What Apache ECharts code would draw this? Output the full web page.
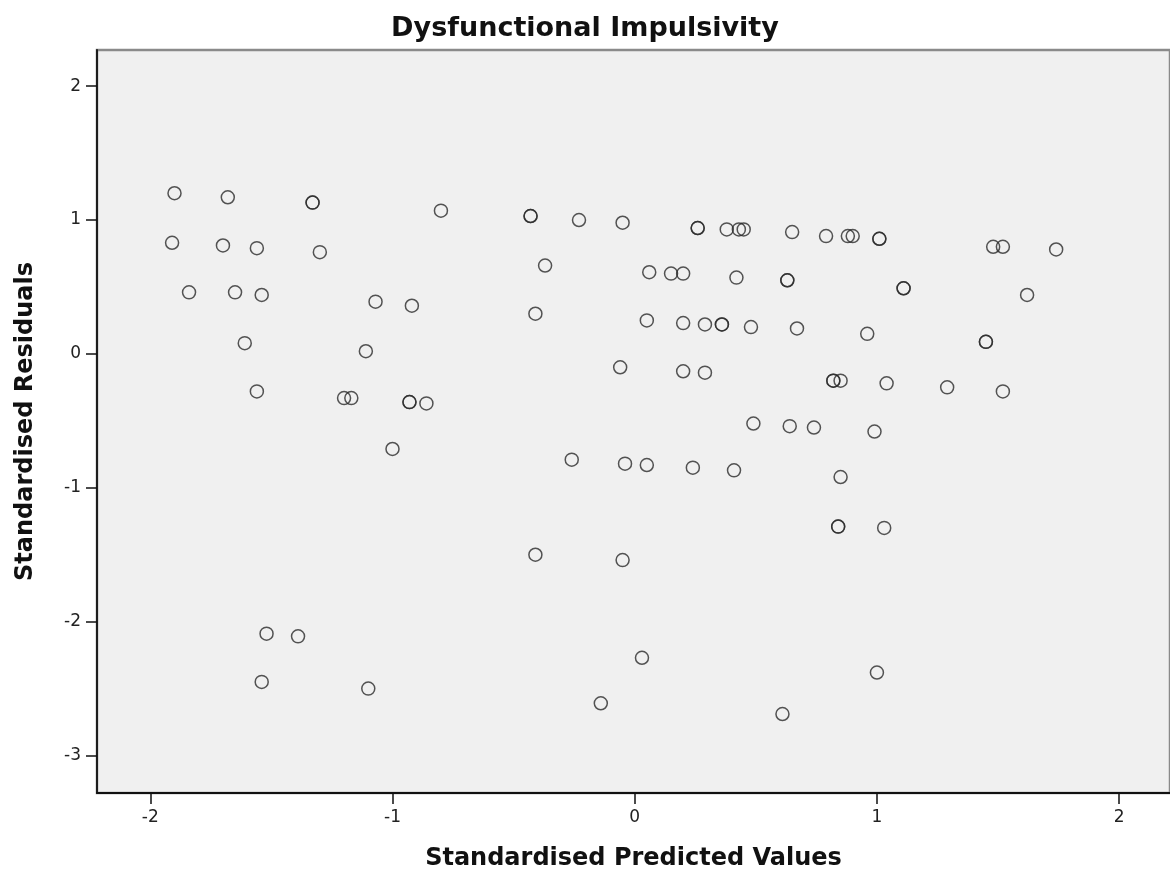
<!DOCTYPE html>
<html>
<head>
<meta charset="utf-8">
<script src="https://cdn.jsdelivr.net/npm/echarts@6/dist/echarts.min.js"></script>
<style>
html,body{margin:0;padding:0;background:#fff;}
#main{width:1170px;height:876px;}
</style>
</head>
<body>
<div id="main"></div>
<script>
// predicted values (x) and residuals (y)
var predicted = [
  -1.90,-1.68,-1.33,-1.33,-1.91,-1.70,-1.56,-1.30,-1.84,-1.65,-1.54,-1.07,-0.92,
  -1.61,-1.11,-1.56,-1.20,-1.17,-0.93,-0.93,-0.86,-1.00,-1.52,-1.39,-1.54,-1.10,
  -0.80,-0.43,-0.43,-0.23,-0.05,0.26,0.26,0.38,0.43,0.45,0.65,0.79,0.88,0.90,1.01,1.01,
  1.48,1.52,1.74,-0.37,0.06,0.15,0.20,0.42,0.63,0.63,1.11,1.11,1.62,
  -0.41,0.05,0.20,0.29,0.36,0.36,0.48,0.67,0.96,1.45,1.45,
  -0.06,0.20,0.29,0.82,0.82,0.85,1.04,1.29,1.52,
  0.49,0.64,0.74,0.99,-0.26,-0.04,0.05,0.24,0.41,0.85,
  0.84,0.84,1.03,-0.41,-0.05,0.03,-0.14,0.61,1.00
];
var residuals = [
  1.20,1.17,1.13,1.13,0.83,0.81,0.79,0.76,0.46,0.46,0.44,0.39,0.36,
  0.08,0.02,-0.28,-0.33,-0.33,-0.36,-0.36,-0.37,-0.71,-2.09,-2.11,-2.45,-2.50,
  1.07,1.03,1.03,1.00,0.98,0.94,0.94,0.93,0.93,0.93,0.91,0.88,0.88,0.88,0.86,0.86,
  0.80,0.80,0.78,0.66,0.61,0.60,0.60,0.57,0.55,0.55,0.49,0.49,0.44,
  0.30,0.25,0.23,0.22,0.22,0.22,0.20,0.19,0.15,0.09,0.09,
  -0.10,-0.13,-0.14,-0.20,-0.20,-0.20,-0.22,-0.25,-0.28,
  -0.52,-0.54,-0.55,-0.58,-0.79,-0.82,-0.83,-0.85,-0.87,-0.92,
  -1.29,-1.29,-1.30,-1.50,-1.54,-2.27,-2.61,-2.69,-2.38
];
var xTicks = [-2,-1,0,1,2];
var yTicks = [-3,-2,-1,0,1,2];

var pts = [];
for (var i=0;i<predicted.length;i++){
    pts.push([predicted[i], residuals[i]]);
}

var chartDom = document.getElementById('main');
var myChart = echarts.init(chartDom);
var option;
option = {
    backgroundColor: '#ffffff',
    animation: false,
    title: {
        text: 'Dysfunctional Impulsivity',
        left: 'center',
        top: 10,
        textStyle: {
            fontFamily: 'DejaVu Sans',
            fontWeight: 'bold',
            fontSize: 27,
            color: '#111'
        }
    },
    grid: {
        left: 97,
        right: 0,
        top: 50,
        bottom: 83,
        show: true,
        backgroundColor: '#f0f0f0',
        borderColor: '#8a8a8a',
        borderWidth: 2.5
    },
    xAxis: {
        type: 'value',
        min: -2.22,
        max: 2.21,
        name: 'Standardised Predicted Values',
        nameLocation: 'middle',
        nameGap: 54,
        nameTextStyle: {
            fontFamily: 'DejaVu Sans',
            fontWeight: 'bold',
            fontSize: 24,
            color: '#111'
        },
        splitLine: { show: false },
        axisLine: { onZero: false, lineStyle: { color: '#111', width: 1.8 } },
        axisTick: { customValues: xTicks, length: 11, lineStyle: { color: '#111', width: 1.5 } },
        axisLabel: {
            customValues: xTicks,
            fontFamily: 'DejaVu Sans',
            fontSize: 17,
            color: '#222',
            margin: 16
        }
    },
    yAxis: {
        type: 'value',
        min: -3.28,
        max: 2.27,
        name: 'Standardised Residuals',
        nameLocation: 'middle',
        nameGap: 59,
        nameTextStyle: {
            fontFamily: 'DejaVu Sans',
            fontWeight: 'bold',
            fontSize: 24,
            color: '#111'
        },
        splitLine: { show: false },
        axisLine: { onZero: false, lineStyle: { color: '#111', width: 1.8 } },
        axisTick: { customValues: yTicks, length: 11, lineStyle: { color: '#111', width: 1.5 } },
        axisLabel: {
            customValues: yTicks,
            fontFamily: 'DejaVu Sans',
            fontSize: 17,
            color: '#222',
            margin: 16
        }
    },
    series: [
        {
            type: 'scatter',
            data: pts,
            symbol: 'circle',
            symbolSize: 13,
            itemStyle: {
                color: 'rgba(0,0,0,0)',
                borderColor: '#2a2a2a',
                borderWidth: 1.5
            }
        }
    ]
};
option && myChart.setOption(option);
</script>
</body>
</html>
